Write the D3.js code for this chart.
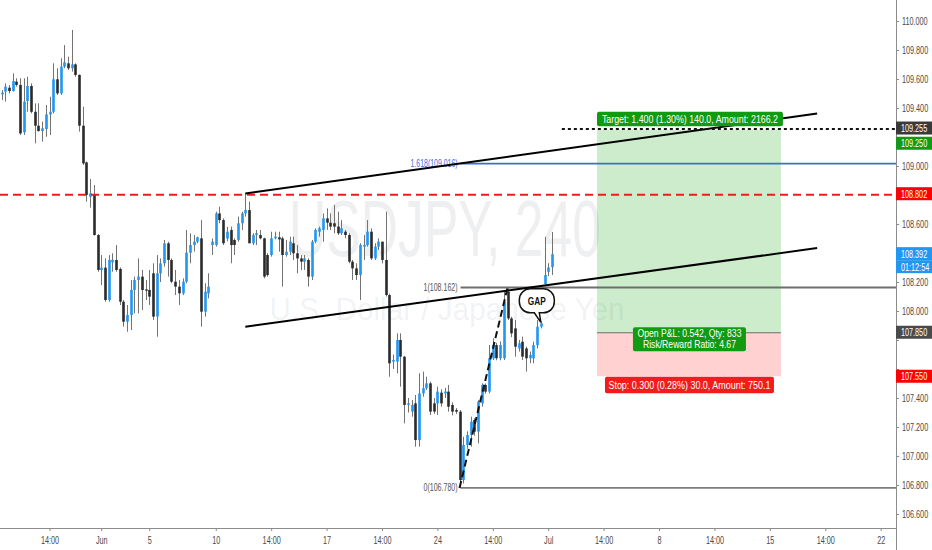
<!DOCTYPE html>
<html><head><meta charset="utf-8">
<script src="https://cdn.jsdelivr.net/npm/d3@7"></script>
<style>html,body{margin:0;padding:0;background:#fff;}svg{display:block;}</style>
</head><body><svg id="c" width="932" height="550"></svg>
<script>
// ---------- DATA (USDJPY, 240 min candles) ----------
const opens = [
109.494,109.513,109.540,109.517,109.582,109.559,109.232,109.448,109.552,109.374,
109.278,109.241,109.255,109.356,109.374,109.598,109.501,109.685,109.708,109.674,
109.701,109.628,109.278,109.025,108.788,108.804,108.524,108.283,108.299,108.076,
108.336,108.352,108.290,108.064,107.926,107.972,108.145,108.214,108.237,108.149,
108.145,108.260,107.961,108.260,108.329,108.467,108.352,108.202,108.168,108.122,
108.202,108.402,108.455,108.478,108.501,107.995,108.122,108.455,108.455,108.673,
108.627,108.500,108.559,108.490,108.490,108.605,108.673,108.696,108.467,108.524,
108.524,108.501,108.386,108.386,108.501,108.508,108.501,108.386,108.409,108.467,
108.398,108.363,108.340,108.352,108.237,108.478,108.547,108.559,108.639,108.609,
108.605,108.582,108.536,108.547,108.524,108.340,108.294,108.248,108.444,108.455,
108.547,108.363,108.444,108.478,108.352,108.110,107.651,107.651,107.800,107.685,
107.352,107.306,107.363,107.110,107.432,107.467,107.501,107.363,107.363,107.437,
107.432,107.444,107.352,107.317,107.306,106.834,107.076,107.145,107.248,107.168,
107.363,107.490,107.444,107.674,107.765,107.674,107.674,108.133,107.949,107.880,
107.742,107.788,107.742,107.674,107.674,107.765,107.892,108.186,108.270,108.303];
const highs = [
109.524,109.570,109.559,109.639,109.605,109.605,109.605,109.616,109.570,109.432,
109.432,109.306,109.421,109.478,109.708,109.674,109.743,109.834,109.754,109.938,
109.708,109.632,109.409,109.030,108.910,108.869,108.530,108.386,108.363,108.386,
108.398,108.455,108.300,108.076,108.041,108.214,108.237,108.363,108.283,108.214,
108.283,108.329,108.386,108.363,108.490,108.478,108.363,108.283,108.214,108.225,
108.559,108.536,108.524,108.513,108.627,108.191,108.260,108.501,108.685,108.719,
108.639,108.580,108.582,108.501,108.651,108.685,108.811,108.754,108.536,108.559,
108.559,108.505,108.398,108.547,108.547,108.547,108.513,108.490,108.513,108.513,
108.455,108.386,108.386,108.363,108.490,108.570,108.582,108.673,108.708,108.673,
108.731,108.685,108.627,108.559,108.536,108.352,108.329,108.467,108.524,108.627,
108.570,108.467,108.501,108.478,108.685,108.120,107.700,107.846,107.846,107.690,
107.400,107.386,107.421,107.570,107.582,107.547,107.513,107.400,107.478,107.460,
107.470,107.490,107.370,107.330,107.317,107.133,107.170,107.271,107.260,107.386,
107.501,107.500,107.765,107.811,107.780,107.790,108.133,108.162,107.960,107.938,
107.800,107.823,107.754,107.720,107.788,107.938,107.930,108.512,108.330,108.545];
const lows = [
109.455,109.444,109.501,109.513,109.547,109.214,109.214,109.374,109.363,109.156,
109.237,109.168,109.202,109.214,109.363,109.490,109.490,109.674,109.662,109.651,
109.616,109.237,109.007,108.754,108.713,108.520,108.271,108.179,108.064,108.064,
108.271,108.271,108.041,107.892,107.857,107.869,107.984,107.984,108.007,108.076,
108.041,107.938,107.823,108.200,108.306,108.237,108.191,108.110,108.041,108.110,
108.191,108.329,108.410,108.467,107.892,107.961,108.087,108.386,108.444,108.605,
108.455,108.480,108.329,108.386,108.478,108.559,108.651,108.467,108.455,108.455,
108.494,108.225,108.237,108.375,108.494,108.409,108.168,108.375,108.386,108.352,
108.260,108.283,108.283,108.168,108.214,108.467,108.513,108.478,108.559,108.559,
108.536,108.524,108.524,108.501,108.329,108.214,108.214,108.076,108.352,108.444,
108.352,108.352,108.421,108.329,108.100,107.547,107.600,107.570,107.478,107.225,
107.300,107.271,107.064,107.064,107.409,107.455,107.283,107.290,107.283,107.340,
107.400,107.306,107.280,107.290,106.780,106.811,107.050,107.064,107.140,107.087,
107.340,107.430,107.432,107.662,107.660,107.660,107.662,107.938,107.820,107.685,
107.720,107.662,107.582,107.640,107.639,107.742,107.880,108.180,108.240,108.248];
const closes = [
109.506,109.547,109.517,109.586,109.559,109.225,109.444,109.552,109.374,109.278,
109.241,109.260,109.356,109.374,109.598,109.501,109.685,109.715,109.674,109.701,
109.628,109.278,109.018,108.800,108.811,108.524,108.283,108.299,108.076,108.352,
108.352,108.283,108.064,107.926,107.972,108.145,108.214,108.237,108.145,108.140,
108.099,107.961,108.260,108.329,108.467,108.352,108.202,108.168,108.122,108.202,
108.402,108.455,108.478,108.508,107.995,108.133,108.168,108.478,108.673,108.627,
108.467,108.547,108.455,108.455,108.605,108.673,108.696,108.467,108.524,108.536,
108.501,108.237,108.248,108.501,108.513,108.494,108.386,108.409,108.478,108.398,
108.363,108.340,108.363,108.237,108.478,108.559,108.570,108.639,108.609,108.582,
108.582,108.536,108.570,108.524,108.340,108.294,108.248,108.455,108.455,108.547,
108.363,108.444,108.478,108.352,108.110,107.639,107.662,107.800,107.685,107.352,
107.363,107.352,107.110,107.432,107.467,107.501,107.306,107.306,107.444,107.363,
107.444,107.340,107.306,107.306,106.834,107.076,107.145,107.237,107.168,107.375,
107.490,107.444,107.674,107.765,107.674,107.765,108.064,107.949,107.846,107.754,
107.777,107.685,107.674,107.697,107.765,107.892,107.915,108.248,108.300,108.392];

const priceTicks = [106.6,106.8,107.0,107.2,107.4,107.6,107.8,108.0,108.2,108.4,108.6,108.8,109.0,109.2,109.4,109.6,109.8,110.0];
const timeTickBars = [13,27,40,58,73,88,103,118,133,148,163,178,193,208,223,238];
const timeTickLabels = ['14:00','Jun','5','10','14:00','17','14:00','24','14:00','Jul','14:00','8','14:00','15','14:00','22'];

const symbolTitle = 'USDJPY, 240';
const symbolName = 'U.S. Dollar / Japanese Yen';

const redLevel = 108.802;
const dottedLevel = 109.255;
const dottedStartBar = 151.7;

const fibLowPoint = [124, 106.780];
const fibHighPoint = [137, 108.162];
const fibLevels = [0, 1, 1.618];

const channelUpper = [[66, 108.810], [220.8, 109.362]];
const channelLower = [[66, 107.892], [220.8, 108.434]];

const positionBars = [161.2, 211];
const entryPrice = 107.85, targetPrice = 109.25, stopPrice = 107.55;
const targetText = 'Target: 1.400 (1.30%) 140.0, Amount: 2166.2';
const pnlLines = ['Open P&L: 0.542, Qty: 833', 'Risk/Reward Ratio: 4.67'];
const stopText = 'Stop: 0.300 (0.28%) 30.0, Amount: 750.1';

const gapAnchor = [146, 107.915];
const countdownText = '01:12:54';

// ---------- DRAW ----------
const FONT = "'Liberation Sans', Arial, sans-serif";
const SX = 0.66;
const W = 932, H = 550, plotR = 896, plotB = 528;
const svg = d3.select('#c');
svg.append('rect').attr('width', W).attr('height', H).attr('fill', '#fff');

const x = d3.scaleLinear().domain([0, 240]).range([1.5, 1.5 + 3.694 * 240]);
const y = d3.scaleLinear().domain([106.6, 110.0]).range([514, 21]);

svg.append('defs').append('clipPath').attr('id', 'plot')
  .append('rect').attr('x', 0).attr('y', 0).attr('width', plotR).attr('height', plotB);
const plot = svg.append('g').attr('clip-path', 'url(#plot)');

function sqText(g, px, py, s, o = {}) {
  const t = g.append('text')
    .attr('transform', `translate(${px},${py}) scale(${o.sx ?? SX},1)`)
    .attr('font-family', FONT).attr('font-size', o.size ?? 11)
    .attr('fill', o.fill ?? '#4a4a4a').attr('text-anchor', o.anchor ?? 'start')
    .attr('dy', o.dy ?? '0.35em').text(s);
  if (o.weight) t.attr('font-weight', o.weight);
  return t;
}
function fitText(g, px, py, s, len, o = {}) {
  const t = g.append('text').attr('x', px).attr('y', py)
    .attr('font-family', FONT).attr('font-size', o.size ?? 11)
    .attr('fill', o.fill ?? '#fff').attr('text-anchor', o.anchor ?? 'middle')
    .attr('dy', o.dy ?? '0.35em').attr('textLength', len)
    .attr('lengthAdjust', 'spacingAndGlyphs').text(s);
  if (o.weight) t.attr('font-weight', o.weight);
  return t;
}

// watermark
fitText(plot, 445, 256, symbolTitle, 312, {size: 80, fill: 'rgba(60,64,80,0.085)', dy: 0});
fitText(plot, 447, 320, symbolName, 355, {size: 32, fill: 'rgba(60,64,80,0.085)', dy: 0});

// position zones
const pxL = x(positionBars[0]), pxR = x(positionBars[1]);
const yT = y(targetPrice), yE = y(entryPrice), yS = y(stopPrice);
plot.append('rect').attr('x', pxL).attr('y', yT).attr('width', pxR - pxL).attr('height', yE - yT)
  .attr('fill', 'rgba(0,160,0,0.2)');
plot.append('rect').attr('x', pxL).attr('y', yE).attr('width', pxR - pxL).attr('height', yS - yE)
  .attr('fill', 'rgba(255,0,0,0.18)');
plot.append('line').attr('x1', pxL).attr('x2', pxR).attr('y1', yE).attr('y2', yE)
  .attr('stroke', '#6f6f6f').attr('stroke-width', 1);

// candles
const idx = d3.range(opens.length);
const cg = plot.append('g');
cg.selectAll('line.wick').data(idx).join('line').attr('class', 'wick')
  .attr('x1', i => Math.round(x(i)) + 0.5).attr('x2', i => Math.round(x(i)) + 0.5)
  .attr('y1', i => y(Math.max(highs[i], opens[i], closes[i])))
  .attr('y2', i => y(Math.min(lows[i], opens[i], closes[i])))
  .attr('stroke', '#737373').attr('stroke-width', 1);
cg.selectAll('rect.body').data(idx).join('rect').attr('class', 'body')
  .attr('x', i => Math.round(x(i)) + 0.5 - 1.3).attr('width', 2.6)
  .attr('y', i => y(Math.max(opens[i], closes[i])))
  .attr('height', i => Math.max(1, Math.abs(y(opens[i]) - y(closes[i]))))
  .attr('fill', i => closes[i] >= opens[i] ? '#2196f3' : '#2b2b2b');

// red dashed level
plot.append('line').attr('x1', 0).attr('x2', plotR).attr('y1', y(redLevel)).attr('y2', y(redLevel))
  .attr('stroke', '#ea1d1d').attr('stroke-width', 2).attr('stroke-dasharray', '8,5');

// fib retracement
const fibRange = fibHighPoint[1] - fibLowPoint[1];
const fibX0 = x(fibLowPoint[0]) + 1;
const fibColors = ['#7d7d7d', '#6e6e6e', '#3d6fd0'];
const fibLabelW = [34, 34, 47];
fibLevels.forEach((lv, j) => {
  const p = fibLowPoint[1] + fibRange * lv;
  const yy = y(p);
  plot.append('line').attr('x1', fibX0).attr('x2', plotR).attr('y1', yy).attr('y2', yy)
    .attr('stroke', fibColors[j]).attr('stroke-width', 1.8);
  fitText(plot, fibX0 - 3, yy, `${lv}(${p.toFixed(3)})`, fibLabelW[j],
    {size: 10, fill: j === 2 ? '#3d6fd0' : '#555', anchor: 'end'});
});
plot.append('line')
  .attr('x1', x(fibLowPoint[0])).attr('y1', y(fibLowPoint[1]))
  .attr('x2', x(fibHighPoint[0])).attr('y2', y(fibHighPoint[1]))
  .attr('stroke', '#111').attr('stroke-width', 2).attr('stroke-dasharray', '7,4');

// channel lines
[channelUpper, channelLower].forEach(ch => {
  plot.append('line')
    .attr('x1', x(ch[0][0])).attr('y1', y(ch[0][1]))
    .attr('x2', x(ch[1][0])).attr('y2', y(ch[1][1]))
    .attr('stroke', '#000').attr('stroke-width', 2);
});

// dotted target level
plot.append('line').attr('x1', x(dottedStartBar)).attr('x2', plotR)
  .attr('y1', y(dottedLevel)).attr('y2', y(dottedLevel))
  .attr('stroke', '#111').attr('stroke-width', 2).attr('stroke-dasharray', '3,3');

// position labels
const pcx = (pxL + pxR) / 2;
plot.append('rect').attr('x', pxL).attr('y', yT - 18).attr('width', pxR - pxL + 2).attr('height', 14.5)
  .attr('rx', 2).attr('fill', '#109b10');
fitText(plot, pcx + 1, yT - 10.8, targetText, 176);
plot.append('rect').attr('x', pcx - 56).attr('y', yE - 5.5).attr('width', 113).attr('height', 24)
  .attr('rx', 2).attr('fill', '#109b10');
fitText(plot, pcx + 0.5, yE + 1, pnlLines[0], 104, {size: 10});
fitText(plot, pcx + 0.5, yE + 12, pnlLines[1], 93, {size: 10});
plot.append('rect').attr('x', pcx - 84).attr('y', yS + 0.5).attr('width', 169).attr('height', 16.5)
  .attr('rx', 2).attr('fill', '#f21c1c');
fitText(plot, pcx + 0.5, yS + 8.8, stopText, 162);

// GAP callout
const tx = x(gapAnchor[0]), ty = y(gapAnchor[1]) - 1;
const bL = tx - 21.5, bR = tx + 13.5, bT = ty - 33.5, bB = ty - 9.5, r = 11;
const gp = d3.path();
gp.moveTo(bL + r, bT); gp.lineTo(bR - r, bT); gp.arcTo(bR, bT, bR, bT + r, r);
gp.lineTo(bR, bB - r); gp.arcTo(bR, bB, bR - r, bB, r);
gp.lineTo(tx - 1.5, bB); gp.lineTo(tx, ty); gp.lineTo(tx - 6.5, bB);
gp.lineTo(bL + r, bB); gp.arcTo(bL, bB, bL, bB - r, r);
gp.lineTo(bL, bT + r); gp.arcTo(bL, bT, bL + r, bT, r); gp.closePath();
plot.append('path').attr('d', gp.toString()).attr('fill', '#fff')
  .attr('stroke', '#111').attr('stroke-width', 1.5);
fitText(plot, (bL + bR) / 2, (bT + bB) / 2 + 0.5, 'GAP', 18, {size: 10.5, fill: '#111', weight: 'bold'});

// ---------- AXES ----------
const axisLabelValues = [dottedLevel, targetPrice, redLevel, closes[closes.length - 1], entryPrice, stopPrice];
const axisLabelColors = ['#3a3a3a', '#109b10', '#ff0000', '#2196f3', '#4a4a4a', '#ff0000'];
const axisLabelShift = [-1, 13.5, -1, -0.5, -0.5, 0];
const labelCenters = axisLabelValues.map((v, j) => y(v) + axisLabelShift[j]);
labelCenters.push(labelCenters[3] + 13);

const yAxisG = svg.append('g').attr('transform', `translate(${plotR},0)`)
  .call(d3.axisRight(y).tickValues(priceTicks).tickFormat(d3.format('.3f')).tickSize(3).tickPadding(3));
yAxisG.select('.domain').remove();
yAxisG.selectAll('.tick line').attr('stroke', '#8a8a8a');
yAxisG.selectAll('.tick text').attr('font-family', FONT).attr('font-size', 11).attr('fill', '#4a4a4a')
  .each(function (d) {
    const t = d3.select(this);
    t.attr('x', (+t.attr('x')) / SX).attr('transform', `scale(${SX},1)`);
    if (labelCenters.some(c => Math.abs(c - y(d)) < 11)) t.remove();
  });

const xAxisG = svg.append('g').attr('transform', `translate(0,${plotB})`)
  .call(d3.axisBottom(x).tickValues(timeTickBars).tickFormat((d, i) => timeTickLabels[i]).tickSize(3).tickPadding(5));
xAxisG.select('.domain').remove();
xAxisG.selectAll('.tick line').attr('stroke', '#8a8a8a');
xAxisG.selectAll('.tick text').attr('font-family', FONT).attr('font-size', 11).attr('fill', '#4a4a4a')
  .attr('transform', `scale(${SX},1)`);

svg.append('line').attr('x1', plotR + 0.5).attr('x2', plotR + 0.5).attr('y1', 0).attr('y2', H)
  .attr('stroke', '#8c8c8c').attr('stroke-width', 1);
svg.append('line').attr('x1', 0).attr('x2', plotR).attr('y1', plotB + 0.5).attr('y2', plotB + 0.5)
  .attr('stroke', '#8c8c8c').attr('stroke-width', 1);

// price axis labels
const al = svg.append('g');
axisLabelValues.forEach((v, j) => {
  const cy = labelCenters[j];
  al.append('rect').attr('x', plotR).attr('y', cy - 6.5).attr('width', W - plotR).attr('height', 13)
    .attr('fill', axisLabelColors[j]);
  sqText(al, plotR + 5, cy, v.toFixed(3), {fill: '#fff'});
  if (j === 3) {
    al.append('rect').attr('x', plotR).attr('y', cy + 6.5).attr('width', W - plotR).attr('height', 13)
      .attr('fill', '#2196f3');
    sqText(al, plotR + 5, cy + 13, countdownText, {fill: '#fff'});
  }
});
</script></body></html>
